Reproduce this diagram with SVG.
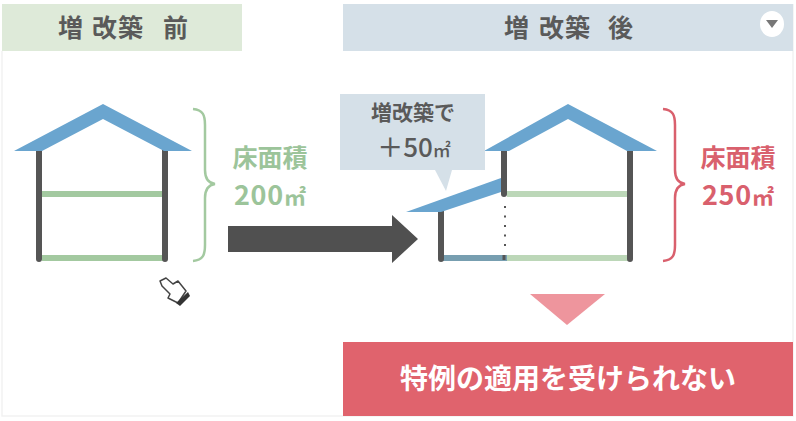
<svg xmlns="http://www.w3.org/2000/svg" width="796" height="421" viewBox="0 0 796 421">
<style>
text{font-family:"Noto Sans CJK JP","Noto Sans",sans-serif;font-weight:700;text-anchor:middle}
.hd{font-size:25px;fill:#5a5a5a;text-anchor:start}
.roof{fill:#6aa5cf}
.wall{stroke:#555;stroke-width:6;fill:none;stroke-linecap:round}
.fl{stroke:#a3c9a0;stroke-width:6;fill:none}
.fl2{stroke:#bcd7b8;stroke-width:6;fill:none}
.g{fill:#9cc49a}
.r{fill:#d9606d}
.big{font-size:27px;letter-spacing:.8px}
.unit{font-size:22px}
</style>
<rect width="796" height="421" fill="#fff"/>
<path d="M2 51V416H793V4" fill="none" stroke="#f2f2f2" stroke-width="1.5"/>
<g id="header-before"><rect x="2" y="4" width="240" height="47" fill="#deead9"/><text class="hd" x="58 92 118 163" y="37">増改築前</text></g>
<g id="header-after"><rect x="343" y="4" width="450" height="47" fill="#d5e0e8"/><text class="hd" x="504 539 565 608" y="37">増改築後</text>
<ellipse cx="772" cy="24" rx="12" ry="13" fill="#fff"/><path d="M766 20H778L772 28Z" fill="#777"/></g>
<g id="house-before">
<path class="fl" d="M42 194H164"/><path class="fl" d="M42 258H164"/>
<path class="wall" d="M39 150V259"/><path class="wall" d="M165 150V259"/>
<path class="roof" d="M103 104L192 151H164L103 119L42 151H14Z"/>
</g>
<g id="brace-before"><path d="M193 109C203 110 205 115 205 125V170C205 178 208 183 215 184C208 185 205 190 205 198V245C205 255 203 260 193 261" fill="none" stroke="#a3c9a0" stroke-width="2.5"/></g>
<g id="label-before"><text class="g" x="270" y="167" style="font-size:25px">床面積</text><text class="g" x="270" y="205"><tspan class="big">200</tspan><tspan class="unit">㎡</tspan></text></g>
<g id="arrow-main"><path d="M228 226H392V215L418 239L392 263V252H228Z" fill="#505050"/></g>
<g id="house-after">
<path class="fl2" d="M507 194H628"/><path class="fl2" d="M507 258H628"/>
<path stroke="#779eb0" stroke-width="6" d="M443 258H507"/>
<path class="wall" d="M441 210V259"/><path class="wall" d="M630 150V259"/>
<path class="wall" d="M504 150V194"/><path d="M505 206V250" stroke="#555" stroke-width="2" stroke-dasharray="2 7.5" fill="none"/>
<path d="M504 255V260" stroke="#555" stroke-width="3"/>
<path class="roof" d="M568 104L657 151H627L568 119L509 151H484Z"/>
<path class="roof" d="M406 212L501 178V192L441 212Z"/>
</g>
<g id="callout"><path d="M340 94H485V170H452L446 191L435 170H340Z" fill="#d5e0e8"/>
<text x="413" y="120" style="font-size:21px;fill:#5a5a5a">増改築で</text><text x="414" y="157" style="font-size:26px;fill:#5a5a5a;font-weight:500">＋50<tspan style="font-size:18px">㎡</tspan></text></g>
<g id="brace-after"><path d="M663 109C673 110 675 115 675 125V170C675 178 678 183 685 184C678 185 675 190 675 198V245C675 255 673 260 663 261" fill="none" stroke="#d9606d" stroke-width="2.5"/></g>
<g id="label-after"><text class="r" x="738" y="167" style="font-size:25px">床面積</text><text class="r" x="738" y="205"><tspan class="big">250</tspan><tspan class="unit">㎡</tspan></text></g>
<g id="arrow-down"><path d="M530 294H605L567 325Z" fill="#ee959d"/></g>
<g id="result"><rect x="343" y="342" width="450" height="74" fill="#e0636d"/><text x="568" y="389" style="font-size:28px;fill:#fff">特例の適用を受けられない</text></g>
<g id="cursor"><path d="M160 281L166 278L173 284L178 281L186 291L178 303L168 298L170 294L162 286Z" fill="#fff" stroke="#444" stroke-width="1.5" stroke-linejoin="round"/><path d="M176 303L188 292L190 296L180 306Z" fill="#333"/></g>
</svg>
